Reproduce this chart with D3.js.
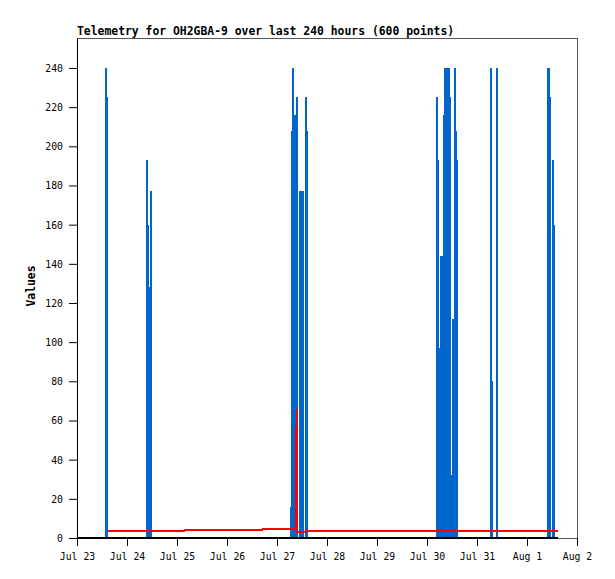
<!DOCTYPE html>
<html>
<head>
<meta charset="utf-8">
<script src="https://cdn.jsdelivr.net/npm/d3@7"></script>
<style>
  body { margin: 0; background: #fff; overflow: hidden; }
  svg { display: block; }
</style>
</head>
<body>
<svg id="chart"></svg>
<script>
// Telemetry chart — times are hours after Jul 23 00:00
const titleText = 'Telemetry for OH2GBA-9 over last 240 hours (600 points)';
const yLabel = 'Values';
const yTicks = [0, 20, 40, 60, 80, 100, 120, 140, 160, 180, 200, 220, 240];

// blue channel, drawn as impulses
const blueHours = [
  13.8, 14.3,
  33.6, 33.9, 34.6, 35.5,
  102.5, 103.2, 103.7, 104.2, 104.8, 105.4, 105.8, 107.0, 107.5, 108.0, 108.5, 109.9, 110.4,
  172.8, 173.3, 173.9, 174.7, 175.2, 175.8, 176.2, 176.6, 177.1, 177.6, 178.1, 178.6, 179.0, 179.8, 180.7, 181.4, 181.9, 182.4,
  198.7, 199.2, 201.6,
  226.1, 226.6, 227.0, 228.5, 229.0
];
const blueValues = [
  240, 225,
  193, 160, 128, 177,
  16, 208, 240, 184, 216, 225, 200, 177, 177, 177, 177, 225, 208,
  225, 193, 97, 144, 144, 88, 216, 240, 240, 200, 240, 240, 225, 32, 112, 240, 208, 193,
  240, 80, 240,
  240, 240, 225, 193, 160
];

// red channel
const redHours = [15.0, 51.7, 51.9, 88.9, 89.1, 103.0, 105.2, 105.4, 105.6, 109.6, 109.8, 230.7];
const redValues = [3.7, 3.7, 4.3, 4.3, 4.8, 4.8, 4.8, 66, 2.9, 2.9, 3.7, 3.7];

// black channel
const blackHours = [0, 230.7];
const blackValues = [0, 0];

const width = 615, height = 579;
const margin = { top: 38, right: 38, bottom: 41, left: 77 };
const innerWidth = width - margin.left - margin.right;
const innerHeight = height - margin.top - margin.bottom;
const fontFamily = '"DejaVu Sans Mono", monospace';

const t0 = new Date(2013, 6, 23);
const toDate = h => new Date(t0.getTime() + h * 3600 * 1000);

const svg = d3.select('#chart')
  .attr('width', width)
  .attr('height', height)
  .attr('viewBox', `0 0 ${width} ${height}`);

const xScale = d3.scaleTime()
  .domain([t0, d3.timeDay.offset(t0, 10)])
  .range([0, innerWidth]);

const yScale = d3.scaleLinear()
  .domain([0, 255.3])
  .range([innerHeight, 0]);

const g = svg.append('g').attr('transform', `translate(${margin.left}, ${margin.top})`);

// Title
svg.append('text')
  .attr('x', margin.left)
  .attr('y', 35)
  .attr('font-family', fontFamily)
  .attr('font-size', '11.4px')
  .attr('font-weight', 'bold')
  .text(titleText);

// Y label
svg.append('text')
  .attr('transform', `translate(35, ${margin.top + innerHeight / 2 - 2}) rotate(-90)`)
  .attr('text-anchor', 'middle')
  .attr('font-family', fontFamily)
  .attr('font-size', '11.4px')
  .attr('font-weight', 'bold')
  .text(yLabel);

// Frame
g.append('rect')
  .attr('x', 0.5)
  .attr('y', 0.5)
  .attr('width', innerWidth)
  .attr('height', innerHeight)
  .attr('fill', 'none')
  .attr('stroke', '#555');

// Blue impulses
blueHours.forEach((h, i) => {
  const x = Math.round(xScale(toDate(h)));
  g.append('line')
    .attr('x1', x)
    .attr('x2', x)
    .attr('y1', yScale(0))
    .attr('y2', yScale(blueValues[i]))
    .attr('stroke', '#0066cc')
    .attr('stroke-width', 2)
    .attr('shape-rendering', 'crispEdges');
});

const line = d3.line()
  .x(d => xScale(toDate(d[0])))
  .y(d => yScale(d[1]));

// Red
g.append('path')
  .datum(redHours.map((h, i) => [h, redValues[i]]))
  .attr('d', line)
  .attr('fill', 'none')
  .attr('stroke', '#ff0000')
  .attr('stroke-width', 2)
  .attr('shape-rendering', 'crispEdges');

// Black
g.append('path')
  .datum(blackHours.map((h, i) => [h, blackValues[i]]))
  .attr('d', line)
  .attr('fill', 'none')
  .attr('stroke', '#000')
  .attr('stroke-width', 2)
  .attr('shape-rendering', 'crispEdges');

// Axes
const xAxis = g.append('g')
  .attr('transform', `translate(0, ${innerHeight})`)
  .call(d3.axisBottom(xScale)
    .ticks(d3.timeDay.every(1))
    .tickFormat(d3.timeFormat('%b %-d'))
    .tickSizeInner(8)
    .tickSizeOuter(0));
xAxis.select('.domain').remove();
xAxis.selectAll('text')
  .attr('y', 22)
  .attr('dy', null)
  .attr('text-anchor', 'middle');

const yAxis = g.append('g')
  .call(d3.axisLeft(yScale)
    .tickValues(yTicks)
    .tickSizeInner(8)
    .tickSizeOuter(0));
yAxis.selectAll('text')
  .attr('x', -14)
  .attr('y', 3.5)
  .attr('dy', null)
  .attr('text-anchor', 'end');

[xAxis, yAxis].forEach(a => {
  a.selectAll('text')
    .attr('fill', '#000')
    .attr('font-family', fontFamily)
    .attr('font-size', '9.8px');
  a.selectAll('line').attr('stroke', '#000');
  a.selectAll('.domain').attr('stroke', '#000');
});
</script>
</body>
</html>
